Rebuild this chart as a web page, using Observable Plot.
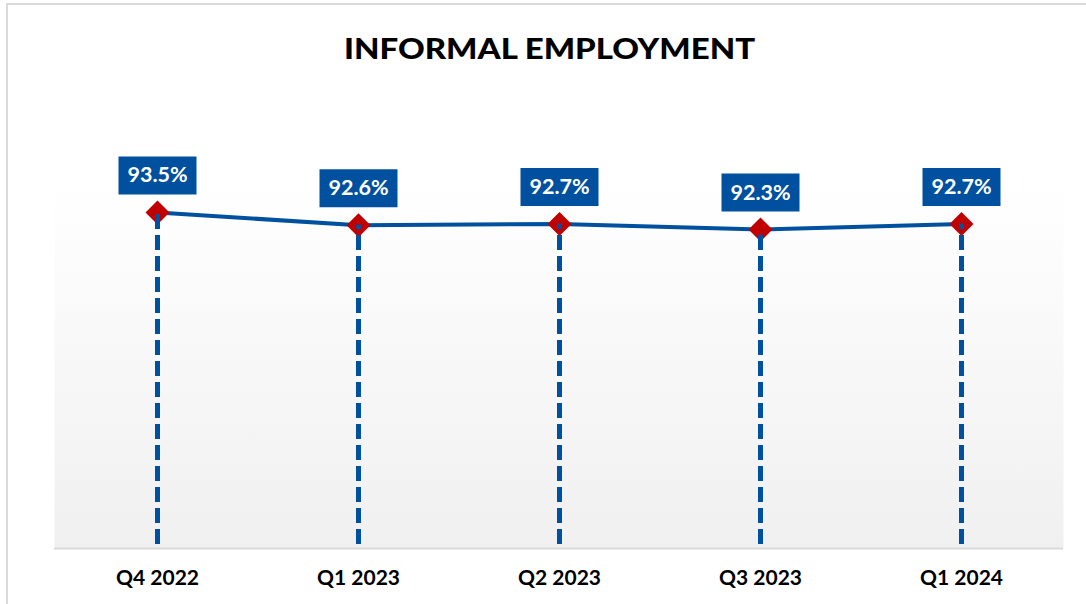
<!DOCTYPE html>
<html>
<head>
<meta charset="utf-8">
<script src="https://cdn.jsdelivr.net/npm/d3@7"></script>
<script src="https://cdn.jsdelivr.net/npm/@observablehq/plot@0.6"></script>
<style>
  html, body { margin: 0; padding: 0; background: #fff; }
  #wrap { position: relative; width: 1086px; height: 604px; overflow: hidden; font-family: Lato, "Open Sans", sans-serif; }
  #border { position: absolute; left: 6px; top: 3px; right: -10px; bottom: -10px; border-top: 2px solid #d9d9d9; border-left: 2px solid #d9d9d9; pointer-events: none; }
  #title { position: absolute; left: 0; top: 0; width: 1099px; height: 100px; text-align: center; font-weight: 900; font-size: 33px; line-height: 96px; color: #000; transform: scaleY(0.86); transform-origin: 50% 48px; }
  #chart { position: absolute; left: 0; top: 100px; }
</style>
</head>
<body>
<div id="wrap">
  <div id="border"></div>
  <div id="title">INFORMAL EMPLOYMENT</div>
  <div id="chart"></div>
</div>
<script>
const quarters = ["Q4 2022", "Q1 2023", "Q2 2023", "Q3 2023", "Q1 2024"];
const informalShare = [93.5, 92.6, 92.7, 92.3, 92.7];
const valueLabels = ["93.5%", "92.6%", "92.7%", "92.3%", "92.7%"];

const data = quarters.map((q, i) => ({quarter: q, value: informalShare[i], label: valueLabels[i]}));

const BLUE = "#0050a0";
const RED = "#c00000";

const boxSymbol = {draw(ctx) { ctx.rect(-39, -19, 78, 38); }};
const diamondSymbol = {draw(ctx) { ctx.moveTo(0, -12); ctx.lineTo(12, 0); ctx.lineTo(0, 12); ctx.lineTo(-12, 0); ctx.closePath(); }};

const chart = Plot.plot({
  width: 1086,
  height: 504,
  marginLeft: 54,
  marginRight: 23,
  marginTop: 19,
  marginBottom: 56,
  style: {fontFamily: "Lato, 'Open Sans', sans-serif", background: "transparent", overflow: "visible"},
  x: {type: "point", domain: quarters, padding: 0.5},
  y: {domain: [70, 100], axis: null},
  marks: [
    Plot.frame({fill: "url(#bggrad)", stroke: null}),
    Plot.ruleY([70], {stroke: "#d9d9d9", strokeWidth: 2}),
    Plot.line(data, {x: "quarter", y: "value", stroke: BLUE, strokeWidth: 4}),
    Plot.dot(data, {x: "quarter", y: "value", symbol: diamondSymbol, fill: RED, stroke: null, r: 12}),
    Plot.ruleX(data, {x: "quarter", y1: 70, y2: "value", stroke: BLUE, strokeWidth: 5, strokeDasharray: "15,6", strokeDashoffset: -4}),
    Plot.dot(data, {x: "quarter", y: "value", symbol: boxSymbol, fill: BLUE, stroke: null, dy: -37, r: 20}),
    Plot.text(data, {x: "quarter", y: "value", text: "label", fill: "white", fontSize: 21.5, fontWeight: "bold", dy: -37}),
    Plot.axisX({tickSize: 0, tickPadding: 22, fontSize: 21, fontWeight: "bold", label: null, color: "#000"})
  ]
});

const svg = d3.select(chart);
const defs = svg.insert("defs", ":first-child");
const grad = defs.append("linearGradient").attr("id", "bggrad").attr("x1", 0).attr("y1", 0).attr("x2", 0).attr("y2", 1);
grad.append("stop").attr("offset", "0%").attr("stop-color", "#ffffff");
grad.append("stop").attr("offset", "15%").attr("stop-color", "#ffffff");
grad.append("stop").attr("offset", "100%").attr("stop-color", "#f0f0f0");
svg.selectAll("g[aria-label='x-axis tick label'] text").attr("font-weight", "bold");

document.getElementById("chart").appendChild(chart);
</script>
</body>
</html>
